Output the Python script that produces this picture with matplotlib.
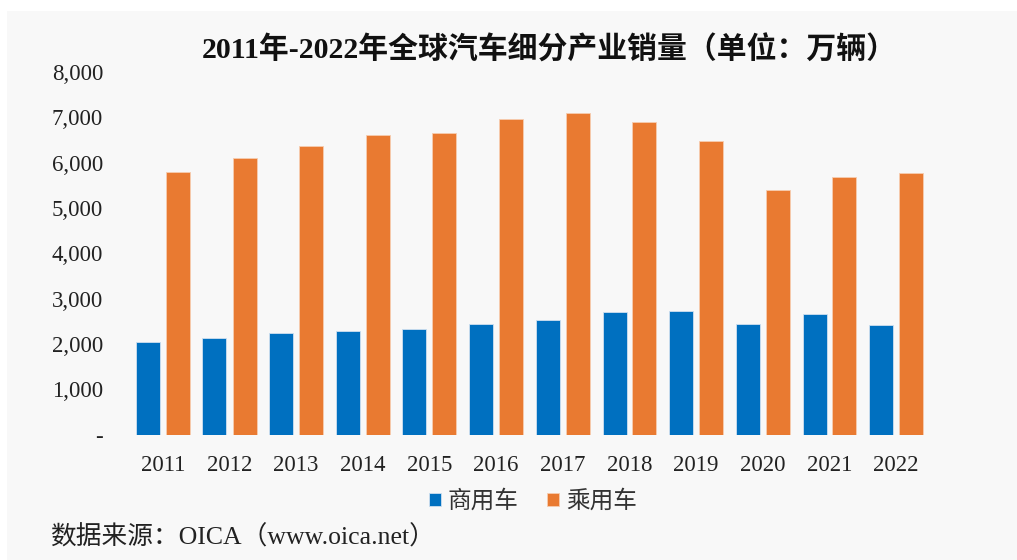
import matplotlib.pyplot as plt
import matplotlib.patches as mpatches
import numpy as np

# 数据（万辆）
years = ['2011', '2012', '2013', '2014', '2015', '2016',
         '2017', '2018', '2019', '2020', '2021', '2022']
commercial = [2049, 2123, 2234, 2285, 2329, 2439, 2521, 2697, 2726, 2439, 2653, 2417]
passenger = [5800, 6110, 6375, 6611, 6655, 6965, 7097, 6892, 6479, 5391, 5678, 5779]

fonts = ['Liberation Serif', 'Noto Sans CJK SC', 'DejaVu Sans']
plt.rcParams['font.family'] = fonts

blue = '#0070C0'
orange = '#E97A31'
bg = '#F8F8F8'

fig = plt.figure(figsize=(10.17, 5.60), dpi=100)
fig.patch.set_facecolor('white')
# light grey panel with a thin white border at top/left
fig.patches.append(mpatches.Rectangle((7 / 1017, 0), 1, 1 - 11 / 560,
                                      transform=fig.transFigure,
                                      facecolor=bg, edgecolor='none', zorder=-10))

ax = fig.add_axes([129.5 / 1017, 1 - 434.5 / 560, 800 / 1017, 362.5 / 560])
ax.set_facecolor(bg)

x = np.arange(len(years))
w = 0.36
ax.bar(x - 0.225, commercial, w, color=blue, edgecolor='#CFE0F0', linewidth=0.6, label='商用车')
ax.bar(x + 0.225, passenger, w, color=orange, edgecolor='#F6CDB0', linewidth=0.6, label='乘用车')

ax.set_xlim(-0.5, len(years) - 0.5)
ax.set_ylim(0, 8000)
ax.set_yticks(np.arange(0, 8001, 1000))
ax.set_yticklabels(['-'] + [f'{v:,}' for v in range(1000, 8001, 1000)])
ax.set_xticks(x)
ax.set_xticklabels(years)
ax.tick_params(axis='both', length=0, labelsize=16.5, colors='#222222')
ax.tick_params(axis='y', pad=19)
ax.tick_params(axis='x', pad=15)
for s in ax.spines.values():
    s.set_visible(False)

fig.text(0.54, 1 - 50 / 560, '2011年-2022年全球汽车细分产业销量（单位：万辆）',
         ha='center', va='center', fontsize=21.5, fontweight='bold', color='#111111')

leg = ax.legend(loc='upper center', bbox_to_anchor=(0.504, -0.095), ncol=2,
                frameon=False, fontsize=17, handlelength=0.5, handleheight=0.5,
                handletextpad=0.3, columnspacing=1.2)
for t in leg.get_texts():
    t.set_color('#333333')

fig.text(50 / 1017, 1 - 537 / 560, '数据来源：OICA（www.oica.net）',
         ha='left', va='center', fontsize=18.5, color='#222222')

fig.savefig('out.png', dpi=100, facecolor=fig.get_facecolor())
